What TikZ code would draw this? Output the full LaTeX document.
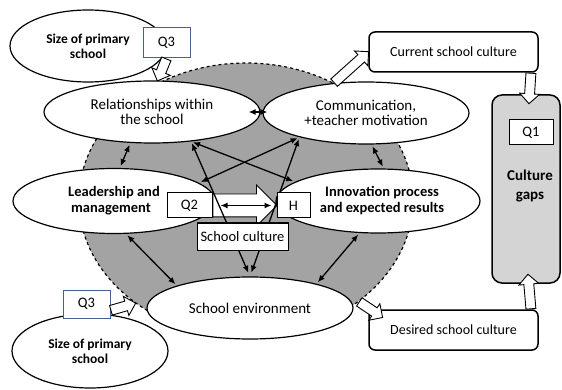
\documentclass[tikz,border=0pt]{standalone}
\usepackage{fontspec}
\setmainfont{Carlito}
\usetikzlibrary{shapes.geometric,shapes.arrows,calc,arrows.meta}

\definecolor{regiongray}{RGB}{163,163,163}
\definecolor{gapsgray}{RGB}{212,212,212}
\definecolor{qblue}{RGB}{70,96,150}

\pgfdeclarelayer{front}
\pgfsetlayers{main,front}

% hollow block arrow: [options]{name}{from}{to}
\newcommand{\hollowarrow}[4][]{%
    \path let \p1=(#3), \p2=(#4),
        \n1={atan2(\y2-\y1,\x2-\x1)}, \n2={veclen(\x2-\x1,\y2-\y1)} in
        node[hollow, rotate=\n1, anchor=tail, minimum height=\n2, #1] (#2) at (\p1) {};}

\begin{document}
\begin{tikzpicture}[
        x=1pt, y=-1pt,
        oval/.style={ellipse, draw, fill=white, line width=1.2pt, inner sep=0pt, align=center,
            font=\fontsize{15}{15.5}\selectfont},
        boldoval/.style={oval, font=\fontsize{14.5}{16}\selectfont\bfseries},
        sizeoval/.style={oval, minimum width=156pt, font=\fontsize{13.5}{15}\selectfont\bfseries},
        qbox/.style={draw, fill=white, line width=1pt, inner sep=0pt, font=\fontsize{14.5}{15}\selectfont},
        culturebox/.style={draw, fill=white, rounded corners=6pt, line width=1.5pt, inner sep=0pt,
            minimum width=169pt, minimum height=40pt, font=\fontsize{14}{15}\selectfont},
        hollow/.style={single arrow, draw, fill=white, line width=0.9pt, inner sep=4.5pt,
            single arrow head extend=5pt, single arrow head indent=0pt},
        link/.style={{Latex[length=7pt,width=6pt]}-{Latex[length=7pt,width=6pt]}, line width=1.3pt,
            shorten <=2pt, shorten >=2pt},
    ]
    \useasboundingbox (0,0) rectangle (562,390);

    % shaded school culture region
    \node[ellipse, draw, dashed, fill=regiongray, line width=1.2pt, minimum width=334pt, minimum height=274pt]
        (region) at (246,200) {};

    \node[sizeoval, minimum height=72pt] (sizetop) at (88,46) {Size of primary\\school};
    \node[sizeoval, minimum height=74pt] (sizebot) at (90,351) {Size of primary\\school};

    \node[oval, minimum width=216pt, minimum height=62pt] (rel) at (152,112) {Relationships within\\the school};
    \node[oval, minimum width=206pt, minimum height=62pt] (comm) at (366,113) {Communication,\\+teacher motivation};
    \node[boldoval, minimum width=202pt, minimum height=65pt] (lead) at (114,201) {Leadership and\\management\hspace*{6pt}};
    \node[boldoval, minimum width=204pt, minimum height=64pt] (innov) at (378,201) {\hspace*{8pt}Innovation process\\\hspace*{8pt}and expected results};
    \node[oval, minimum width=206pt, minimum height=62pt] (env) at (250,308) {School environment};

    \node[qbox, draw=qblue, minimum width=47pt, minimum height=30pt] (q3top) at (166.5,43) {Q3};
    \node[qbox, draw=qblue, minimum width=47pt, minimum height=28pt] (q3bot) at (86.5,304) {Q3};

    \node[culturebox] (current) at (453.5,52) {Current school culture};
    \node[culturebox] (desired) at (453.5,330) {Desired school culture};
    \node[draw, fill=gapsgray, rounded corners=10pt, line width=1.5pt, minimum width=68pt, minimum height=188pt]
        (gaps) at (526,189) {};
    \node[qbox, minimum width=44pt, minimum height=25pt] (q1) at (531,132.5) {Q1};
    \node[align=center, font=\fontsize{15}{19}\selectfont\bfseries] (gapslabel) at (530,186) {Culture\\gaps};

    \begin{pgfonlayer}{front}
        \node[qbox, minimum width=45pt, minimum height=25pt] (q2) at (189.5,205.5) {Q2};
        \node[qbox, minimum width=33pt, minimum height=25pt] (h) at (293.5,205.5) {H};
        \node[qbox, minimum width=91pt, minimum height=27pt] (schoolculture) at (242.5,236.5) {School culture};
    \end{pgfonlayer}

    \hollowarrow{up1}{q3top.south}{rel.80}
    \hollowarrow{up2}{comm.137}{current.west}
    \hollowarrow{down1}{current.-15}{$(gaps.north)+(3,9)$}
    \hollowarrow{up3}{desired.15}{$(gaps.south)+(2,-9)$}
    \hollowarrow{down2}{region.-42}{$(desired.north west)+(14,8)$}
    \hollowarrow{up4}{q3bot.-15}{region.-137}
    \hollowarrow[inner sep=11pt, single arrow head extend=9pt]{bigarrow}{q2.east}{h.west}

    \draw[link, shorten <=-12pt, shorten >=-5pt] (rel.east) -- (rel.east -| comm.west);
    \draw[link] (rel.235) -- (lead.80);
    \draw[link] (comm.-80) -- (innov.80);
    \draw[link] (lead.-70) -- (env.163);
    \draw[link] (innov.-120) -- (env.20);
    \draw[link] (rel.-37) -- (innov.167);
    \draw[link] (comm.-160) -- (lead.12);
    \draw[link, shorten >=4pt] (rel.-37) -- (env.north);
    \draw[link, shorten >=4pt] (comm.-160) -- (env.north);
    \draw[link, shorten <=8pt, shorten >=5pt] (q2.east) -- (h.west);
\end{tikzpicture}
\end{document}
